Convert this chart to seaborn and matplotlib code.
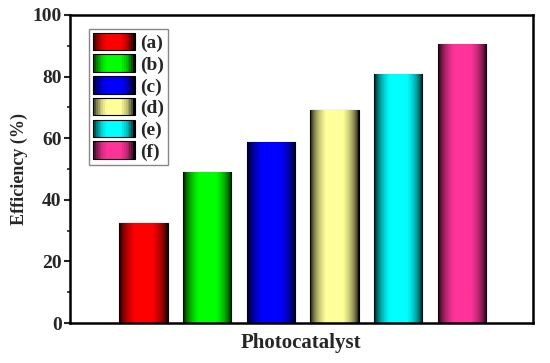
import numpy as np
import pandas as pd
import matplotlib
matplotlib.use('Agg')
import matplotlib.pyplot as plt
import matplotlib.patches as mpatches
from matplotlib.legend_handler import HandlerBase
import seaborn as sns

#Data
samples = ['(a)', '(b)', '(c)', '(d)', '(e)', '(f)']
efficiency = [32.5, 49.0, 58.8, 69.2, 80.8, 90.6]
colors = ['#FF0000', '#00FF00', '#0000FF', '#FFFF99', '#00FFFF', '#FF3399']

df = pd.DataFrame({'sample': samples, 'eff': efficiency})

sns.set_style('white')
plt.rcParams['font.family'] = ['Liberation Serif', 'DejaVu Serif']
plt.rcParams['font.weight'] = 'bold'

#Shading profile across a bar: dark edges, bright in the middle
def shade(color, n=64):
    t = np.linspace(0, 1, n)
    f = np.clip(np.sin(np.pi * t) ** 0.6 * 1.1, 0, 1)
    c = np.array(matplotlib.colors.to_rgb(color))
    return (f[:, None] * c[None, :])[None, :, :]

fig = plt.figure(figsize=(5.5, 3.63), dpi=100)
ax = fig.add_axes([0.127, 0.11, 0.842, 0.849])

sns.barplot(data=df, x='sample', y='eff', hue='sample', palette=colors,
            width=0.76, edgecolor='black', linewidth=0.8, legend=False, ax=ax)

for p, c in zip(ax.patches, colors):
    x0, y0 = p.get_x(), p.get_y()
    w, h = p.get_width(), p.get_height()
    im = ax.imshow(shade(c), extent=[x0, x0 + w, y0, y0 + h],
                   aspect='auto', zorder=p.get_zorder() + 0.1)
    im.set_clip_path(p)

ax.set_xlim(-1.16, 6.12)
ax.set_ylim(0, 100)
ax.set_yticks([0, 20, 40, 60, 80, 100])
ax.set_yticks([10, 30, 50, 70, 90], minor=True)
ax.set_xticks([])
ax.tick_params(axis='y', which='major', direction='out', length=4, width=1.5,
               left=True, labelsize=14, pad=2)
ax.tick_params(axis='y', which='minor', direction='out', length=2.5, width=1.2, left=True)
for s in ax.spines.values():
    s.set_linewidth(1.8)
    s.set_color('black')
ax.set_xlabel('Photocatalyst', fontsize=15, fontweight='bold', labelpad=7)
ax.set_ylabel('Efficiency (%)', fontsize=13, fontweight='bold', labelpad=3)

#Legend entries drawn with the same shading as the bars
class GradientHandler(HandlerBase):
    def __init__(self, color):
        super().__init__()
        self.color = color

    def create_artists(self, legend, orig_handle, xdescent, ydescent,
                       width, height, fontsize, trans):
        n = 24
        cols = shade(self.color, n)[0]
        arts = []
        for i in range(n):
            r = mpatches.Rectangle((-xdescent + width * i / n, -ydescent),
                                   width / n + 0.3, height, facecolor=cols[i],
                                   edgecolor='none', transform=trans)
            arts.append(r)
        arts.append(mpatches.Rectangle((-xdescent, -ydescent), width, height,
                                       facecolor='none', edgecolor='black',
                                       linewidth=0.8, transform=trans))
        return arts

handles = [mpatches.Patch(color=c, label=s) for s, c in zip(samples, colors)]
leg = ax.legend(handles=handles, loc='upper left', bbox_to_anchor=(0.041, 0.955),
                borderaxespad=0,
                handler_map={h: GradientHandler(c) for h, c in zip(handles, colors)},
                prop={'family': 'Liberation Serif', 'weight': 'bold', 'size': 14},
                handlelength=2.15, handleheight=1.0, labelspacing=0.12,
                handletextpad=0.3, borderpad=0.2, fancybox=False,
                frameon=True, edgecolor='#888888', framealpha=1)
leg.get_frame().set_linewidth(1.0)

fig.savefig('out.png', dpi=100)
